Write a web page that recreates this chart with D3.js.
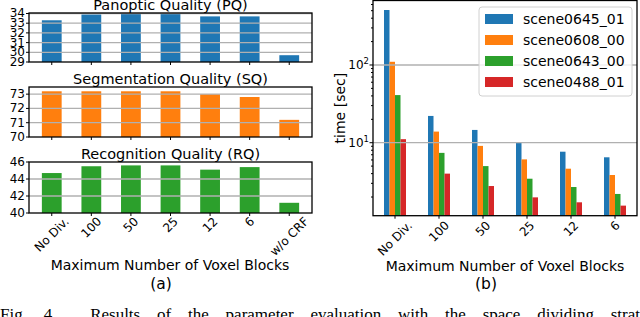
<!DOCTYPE html>
<html>
<head>
<meta charset="utf-8">
<script src="https://cdn.jsdelivr.net/npm/d3@7"></script>
<style>
  body { margin: 0; background: #fff; }
  svg { display: block; font-family: 'DejaVu Sans', sans-serif; }
  .grid { stroke: #b0b0b0; stroke-width: 1.3; }
  .frame { fill: none; stroke: #000; stroke-width: 1.3; }
  .tick { stroke: #000; stroke-width: 1; }
</style>
</head>
<body>
<div id="chart"></div>
<script>
// categories
const divisions = ['No Div.', '100', '50', '25', '12', '6', 'w/o CRF'];
const timeDivisions = ['No Div.', '100', '50', '25', '12', '6'];

// panel (a): quality scores
const pqValues = [33.3, 33.9, 34.0, 34.0, 33.7, 33.7, 29.7];
const sqValues = [73.2, 73.2, 73.2, 73.2, 73.0, 72.8, 71.2];
const rqValues = [44.7, 45.5, 45.6, 45.6, 45.1, 45.4, 41.2];
const pqTicks = [29, 30, 31, 32, 33, 34];
const sqTicks = [70, 71, 72, 73];
const rqTicks = [40, 42, 44, 46];

// panel (b): time [sec] per scene
const scenes = ['scene0645_01', 'scene0608_00', 'scene0643_00', 'scene0488_01'];
const scene0645 = [510, 22.1, 14.6, 10.1, 7.66, 6.49];
const scene0608 = [110, 13.9, 9.1, 6.1, 4.63, 3.84];
const scene0643 = [41, 7.4, 5.0, 3.44, 2.69, 2.19];
const scene0488 = [11.1, 4.0, 2.77, 1.98, 1.71, 1.55];
const timeTicks = [10, 100];

const COLORS = ['#1f77b4', '#ff7f0e', '#2ca02c', '#d62728'];
const WIDTH = 640;
const HEIGHT = 317;
const TICK_FONT = 12;
const LABEL_FONT = 14;

const $svg = d3.select('#chart').append('svg')
  .attr('width', WIDTH)
  .attr('height', HEIGHT);

// helper: rotated x labels centred under tick, like matplotlib rotation=45
function rotatedLabels($g, labels, scaleX, top) {
  labels.forEach((d, i) => {
    const $t = $g.append('text')
      .attr('font-size', TICK_FONT)
      .attr('text-anchor', 'middle')
      .attr('dominant-baseline', 'central')
      .text(d);
    const len = $t.node().getComputedTextLength();
    const h = TICK_FONT * 0.8;
    const cy = top + ((len + h) * Math.SQRT1_2) / 2;
    $t.attr('transform', `translate(${scaleX(i)},${cy}) rotate(-45)`);
  });
}

// ---------- panel (a) ----------
const A_LEFT = 29;
const A_RIGHT = 312;
const xA = d3.scaleLinear().domain([-0.575, 6.575]).range([A_LEFT, A_RIGHT]);

const qualityPanels = [
  { title: 'Panoptic Quality (PQ)', values: pqValues, ticks: pqTicks, domain: [29, 34.05], top: 13, bottom: 62, color: COLORS[0] },
  { title: 'Segmentation Quality (SQ)', values: sqValues, ticks: sqTicks, domain: [70, 73.5], top: 87, bottom: 137, color: COLORS[1] },
  { title: 'Recognition Quality (RQ)', values: rqValues, ticks: rqTicks, domain: [40, 46], top: 162, bottom: 213, color: COLORS[2] },
];

qualityPanels.forEach((p) => {
  const $g = $svg.append('g');
  const y = d3.scaleLinear().domain(p.domain).range([p.bottom, p.top]);

  $g.selectAll('.bar')
    .data(p.values)
    .join('rect')
    .attr('x', (d, i) => xA(i - 0.25))
    .attr('width', xA(0.5) - xA(0))
    .attr('y', (d) => y(d))
    .attr('height', (d) => p.bottom - y(d))
    .attr('fill', p.color);

  // grid on top of bars
  $g.selectAll('.grid')
    .data(p.ticks.filter((t) => t > p.domain[0] && t < p.domain[1]))
    .join('line')
    .attr('class', 'grid')
    .attr('x1', A_LEFT).attr('x2', A_RIGHT)
    .attr('y1', (d) => y(d)).attr('y2', (d) => y(d));

  $g.selectAll('.ylab')
    .data(p.ticks)
    .join('text')
    .attr('x', A_LEFT - 4)
    .attr('y', (d) => y(d))
    .attr('text-anchor', 'end')
    .attr('dominant-baseline', 'central')
    .attr('font-size', TICK_FONT)
    .text((d) => d);

  $g.selectAll('.ytick')
    .data(p.ticks)
    .join('line')
    .attr('class', 'tick')
    .attr('x1', A_LEFT - 3).attr('x2', A_LEFT)
    .attr('y1', (d) => y(d)).attr('y2', (d) => y(d));

  $g.selectAll('.xtick')
    .data(divisions)
    .join('line')
    .attr('class', 'tick')
    .attr('x1', (d, i) => xA(i)).attr('x2', (d, i) => xA(i))
    .attr('y1', p.bottom).attr('y2', p.bottom + 3);

  $g.append('rect')
    .attr('class', 'frame')
    .attr('x', A_LEFT).attr('y', p.top)
    .attr('width', A_RIGHT - A_LEFT).attr('height', p.bottom - p.top);

  $g.append('text')
    .attr('x', (A_LEFT + A_RIGHT) / 2)
    .attr('y', p.top - 3.5)
    .attr('text-anchor', 'middle')
    .attr('font-size', 14.5)
    .text(p.title);
});

rotatedLabels($svg.append('g'), divisions, xA, 216);

$svg.append('text')
  .attr('x', 170).attr('y', 270)
  .attr('text-anchor', 'middle')
  .attr('font-size', LABEL_FONT)
  .text('Maximum Number of Voxel Blocks');

$svg.append('text')
  .attr('x', 161).attr('y', 289)
  .attr('text-anchor', 'middle')
  .attr('font-size', 15.5)
  .text('(a)');

// ---------- panel (b) ----------
const B_LEFT = 373;
const B_RIGHT = 637;
const B_TOP = 0.5;
const B_BOTTOM = 215.7;
const xB = d3.scaleLinear().domain([-0.5, 5.5]).range([B_LEFT, B_RIGHT]);
const yB = d3.scaleLog().domain([1.15, 676]).range([B_BOTTOM, B_TOP]);
const BAR_W = 0.125;

const series = [scene0645, scene0608, scene0643, scene0488];
const $b = $svg.append('g');

series.forEach((values, j) => {
  $b.append('g')
    .selectAll('rect')
    .data(values)
    .join('rect')
    .attr('x', (d, i) => xB(i + (j - 2) * BAR_W))
    .attr('width', xB(BAR_W) - xB(0))
    .attr('y', (d) => yB(d))
    .attr('height', (d) => B_BOTTOM - yB(d))
    .attr('fill', COLORS[j]);
});

$b.selectAll('.grid')
  .data(timeTicks)
  .join('line')
  .attr('class', 'grid')
  .attr('x1', B_LEFT).attr('x2', B_RIGHT)
  .attr('y1', (d) => yB(d)).attr('y2', (d) => yB(d));

// minor log ticks
const minorTicks = yB.ticks().filter((t) => !timeTicks.includes(t));
$b.selectAll('.minor')
  .data(minorTicks)
  .join('line')
  .attr('class', 'tick')
  .attr('x1', B_LEFT - 2).attr('x2', B_LEFT)
  .attr('y1', (d) => yB(d)).attr('y2', (d) => yB(d));

$b.selectAll('.major')
  .data(timeTicks)
  .join('line')
  .attr('class', 'tick')
  .attr('x1', B_LEFT - 3.5).attr('x2', B_LEFT)
  .attr('y1', (d) => yB(d)).attr('y2', (d) => yB(d));

$b.selectAll('.ylab')
  .data(timeTicks)
  .join('text')
  .attr('x', B_LEFT - 4)
  .attr('y', (d) => yB(d) + 4.5)
  .attr('text-anchor', 'end')
  .attr('font-size', TICK_FONT)
  .each(function (d) {
    const $t = d3.select(this);
    $t.append('tspan').text('10');
    $t.append('tspan')
      .attr('font-size', 8.5)
      .attr('dy', -5)
      .text(Math.round(Math.log10(d)));
  });

$b.selectAll('.xtick')
  .data(timeDivisions)
  .join('line')
  .attr('class', 'tick')
  .attr('x1', (d, i) => xB(i)).attr('x2', (d, i) => xB(i))
  .attr('y1', B_BOTTOM).attr('y2', B_BOTTOM + 3);

$b.append('rect')
  .attr('class', 'frame')
  .attr('x', B_LEFT).attr('y', B_TOP)
  .attr('width', B_RIGHT - B_LEFT).attr('height', B_BOTTOM - B_TOP);

rotatedLabels($b.append('g'), timeDivisions, xB, 220);

$b.append('text')
  .attr('transform', `translate(345,${(B_TOP + B_BOTTOM) / 2}) rotate(-90)`)
  .attr('text-anchor', 'middle')
  .attr('font-size', LABEL_FONT)
  .text('time [sec]');

$b.append('text')
  .attr('x', 505).attr('y', 271)
  .attr('text-anchor', 'middle')
  .attr('font-size', LABEL_FONT)
  .text('Maximum Number of Voxel Blocks');

$b.append('text')
  .attr('x', 486).attr('y', 289)
  .attr('text-anchor', 'middle')
  .attr('font-size', 15.5)
  .text('(b)');

// legend
const $legend = $b.append('g');
$legend.append('rect')
  .attr('x', 479).attr('y', 7)
  .attr('width', 153).attr('height', 89)
  .attr('rx', 3)
  .attr('fill', 'rgba(255,255,255,0.8)')
  .attr('stroke', '#d0d0d0');

scenes.forEach((s, j) => {
  const cy = 19 + 21 * j;
  $legend.append('rect')
    .attr('x', 485).attr('y', cy - 5)
    .attr('width', 28).attr('height', 10)
    .attr('fill', COLORS[j]);
  $legend.append('text')
    .attr('x', 523).attr('y', cy)
    .attr('dominant-baseline', 'central')
    .attr('font-size', LABEL_FONT)
    .text(s);
});

// figure caption, cut by the bottom edge; words spread to full width
const $caption = $svg.append('text')
  .attr('x', 0).attr('y', 320)
  .attr('font-family', "'Liberation Serif', serif")
  .attr('font-size', 17)
  .attr('xml:space', 'preserve')
  .text('Fig. 4.  Results of the parameter evaluation with the space dividing strat');
const capLen = $caption.node().getComputedTextLength();
const capSpaces = $caption.text().split(' ').length - 1;
$caption.attr('word-spacing', Math.max(0, (WIDTH - capLen) / capSpaces));
</script>
</body>
</html>
